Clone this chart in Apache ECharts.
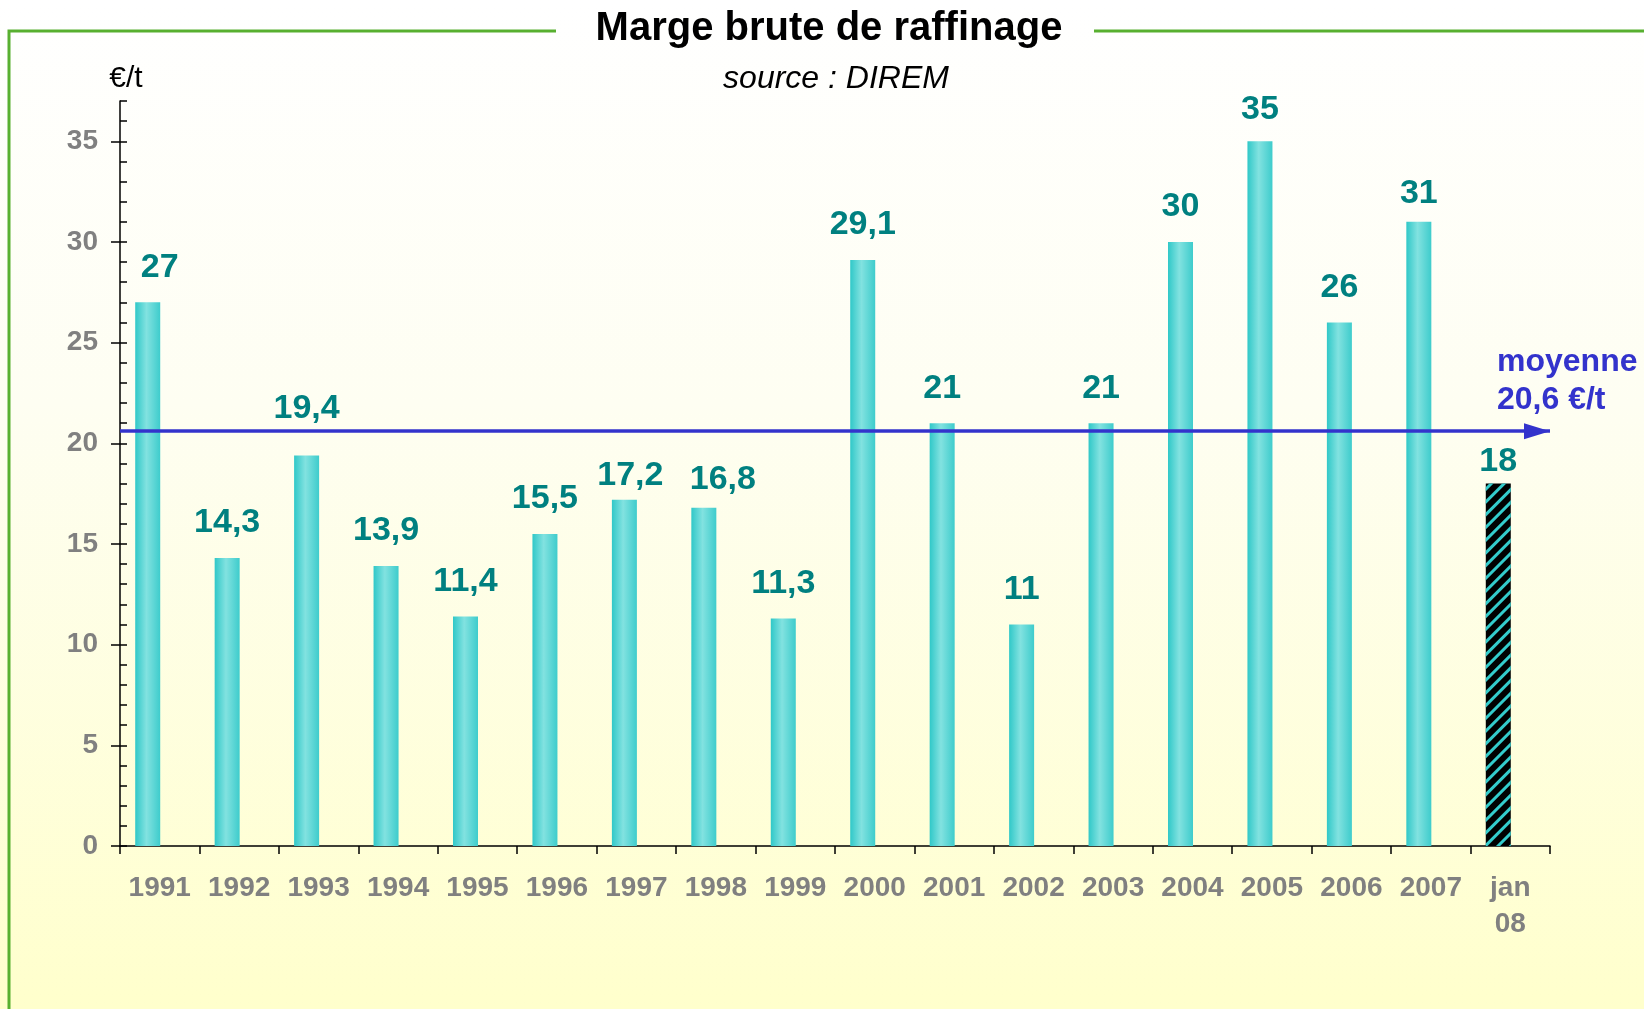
<!DOCTYPE html>
<html>
<head>
<meta charset="utf-8">
<script src="https://cdn.jsdelivr.net/npm/echarts@6/dist/echarts.min.js"></script>
<style>
    html, body { margin: 0; padding: 0; }
    #main {
        width: 1644px; height: 1009px;
        background: linear-gradient(to bottom, #ffffff 0%, #fefef2 40%, #ffffcc 100%);
    }
</style>
</head>
<body>
<div id="main"></div>
<script>
'use strict'

// values
var years = ['1991', '1992', '1993', '1994', '1995', '1996', '1997', '1998', '1999',
    '2000', '2001', '2002', '2003', '2004', '2005', '2006', '2007', 'jan\n08']
var margins = [27, 14.3, 19.4, 13.9, 11.4, 15.5, 17.2, 16.8, 11.3,
    29.1, 21, 11, 21, 30, 35, 26, 31, 18]
var average = 20.6
var yTicks = [0, 5, 10, 15, 20, 25, 30, 35]

var FONT = 'Liberation Sans, Arial, sans-serif'
var TEAL = '#008080'
var GREY = '#808080'
var BLUE = '#3333cc'
var GREEN = '#58b030'

// a few labels sit off their default place in the original
var labelNudge = {
    '1991': [12, 0],
    '1993': [0, -12],
    '1997': [6, 11],
    '1998': [19, 7],
    '2005': [0, 3],
    '2007': [0, 7],
    'jan\n08': [0, 13]
}

var barFill = {
    type: 'linear', x: 0, y: 0, x2: 1, y2: 0,
    colorStops: [
        { offset: 0, color: '#30c8c8' },
        { offset: 0.45, color: '#82e2e0' },
        { offset: 1, color: '#3ecccc' }
    ]
}

var barData = margins.map(function (v, i) {
    var item = { value: v }
    var nudge = labelNudge[years[i]]
    if (nudge) item.label = { offset: nudge }
    if (years[i] === 'jan\n08') {
        // hatched bar for the partial month
        item.itemStyle = {
            color: '#000000',
            decal: {
                symbol: 'rect',
                symbolSize: 1,
                color: '#33cccc',
                dashArrayX: [1, 0],
                dashArrayY: [3, 6],
                rotation: -Math.PI / 4
            }
        }
    }
    return item
})

var myChart = echarts.init(document.getElementById('main'))

var option = {
    animation: false,
    textStyle: { fontFamily: FONT },
    grid: {
        left: 120, right: 94, top: 101, bottom: 163,
        containLabel: false,
        outerBoundsMode: 'none'
    },
    xAxis: {
        type: 'category',
        data: years,
        axisLine: { lineStyle: { color: '#000', width: 1.5 } },
        axisTick: { show: true, length: 8, lineStyle: { color: '#000', width: 1.5 } },
        axisLabel: {
            color: GREY, fontWeight: 'bold', fontSize: 28, fontFamily: FONT,
            margin: 24, lineHeight: 36, interval: 0
        },
        splitLine: { show: false }
    },
    yAxis: [
        {
            // small ticks on the inside, every unit
            type: 'value', min: 0, max: 37, interval: 1,
            axisLine: { show: true, lineStyle: { color: '#000', width: 1.5 } },
            axisTick: { show: true, inside: true, length: 7, lineStyle: { color: '#000', width: 1.5 } },
            axisLabel: {
                customValues: yTicks,
                color: GREY, fontWeight: 'bold', fontSize: 28, fontFamily: FONT, margin: 22
            },
            splitLine: { show: false }
        },
        {
            // major ticks crossing to the outside
            type: 'value', min: 0, max: 37, position: 'left', offset: 0,
            axisLine: { show: false },
            axisTick: { show: true, customValues: yTicks, length: 9, lineStyle: { color: '#000', width: 1.5 } },
            axisLabel: { show: false },
            splitLine: { show: false }
        }
    ],
    series: [
        {
            name: 'marge',
            type: 'bar',
            barWidth: 25,
            barGap: '-4%',
            data: barData,
            itemStyle: { color: barFill },
            label: {
                show: true, position: 'top', distance: 18,
                color: TEAL, fontWeight: 'bold', fontSize: 34, fontFamily: FONT,
                formatter: function (p) { return String(p.value).replace('.', ',') }
            },
            markLine: {
                silent: true,
                symbol: 'none',
                lineStyle: { color: BLUE, width: 3.5, type: 'solid' },
                label: { show: false },
                data: [{ yAxis: average }]
            }
        },
        {
            // empty companion series, shifts bars left of the tick centre like the original
            name: 'vide',
            type: 'bar',
            barWidth: 25,
            data: []
        }
    ]
}

myChart.setOption(option)

var avgY = myChart.convertToPixel({ yAxisIndex: 0 }, average)
var axisEnd = 1644 - 94

myChart.setOption({
    graphic: [
        // green frame broken by the title
        { type: 'polyline', shape: { points: [[556, 31], [9, 31], [9, 1009]] }, style: { stroke: GREEN, lineWidth: 3, fill: null } },
        { type: 'line', shape: { x1: 1094, y1: 31, x2: 1644, y2: 31 }, style: { stroke: GREEN, lineWidth: 3 } },
        { type: 'text', x: 829, y: 29, style: { text: 'Marge brute de raffinage', font: 'bold 40px ' + FONT, fill: '#000', textAlign: 'center', textVerticalAlign: 'middle' } },
        { type: 'text', x: 836, y: 79, style: { text: 'source : DIREM', font: 'italic 32px ' + FONT, fill: '#000', textAlign: 'center', textVerticalAlign: 'middle' } },
        { type: 'text', x: 126, y: 79, style: { text: '€/t', font: '30px ' + FONT, fill: '#000', textAlign: 'center', textVerticalAlign: 'middle' } },
        // arrow head on the average line
        { type: 'polygon', shape: { points: [[axisEnd, avgY], [axisEnd - 26, avgY - 8], [axisEnd - 26, avgY + 8]] }, style: { fill: BLUE } },
        {
            type: 'text', x: 1497, y: avgY - 12,
            style: {
                text: 'moyenne\n' + String(average).replace('.', ',') + ' €/t',
                font: 'bold 32px ' + FONT, fill: BLUE, lineHeight: 38,
                textAlign: 'left', textVerticalAlign: 'bottom'
            }
        }
    ]
})
</script>
</body>
</html>
